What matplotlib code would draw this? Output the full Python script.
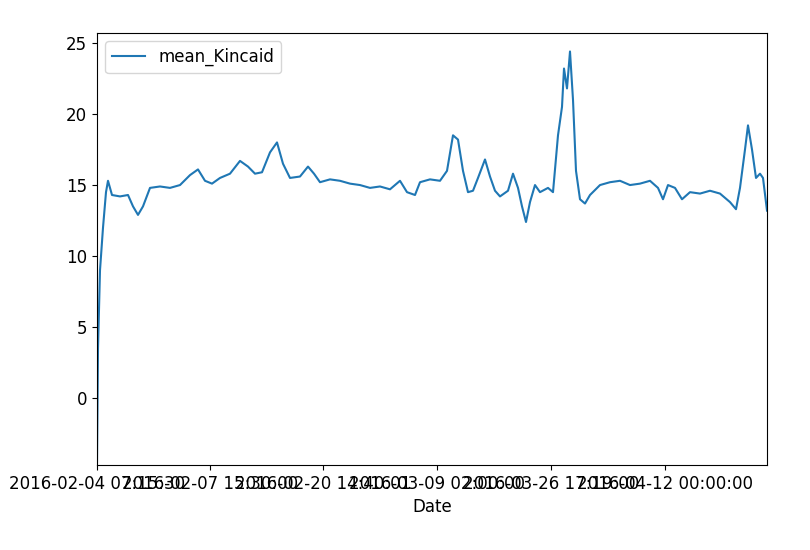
import matplotlib
matplotlib.use("Agg")
import matplotlib.pyplot as plt

x_pos = [0,1,3,6,9,11,15,23,31,36,41,46,53,63,73,83,93,101,108,115,123,133,143,151,158,165,173,180,186,193,203,211,217,223,233,243,253,263,273,283,293,303,310,318,323,333,343,350,356,361,366,371,376,381,388,393,398,403,411,416,421,425,429,433,438,443,451,456,461,465,467,470,473,476,479,483,488,493,503,513,523,533,543,553,561,566,571,578,585,593,603,613,623,633,639,643,648,651,655,659,663,666,670]
values = [-4.5,3.5,9,12,14.5,15.3,14.3,14.2,14.3,13.5,12.9,13.5,14.8,14.9,14.8,15.0,15.7,16.1,15.3,15.1,15.5,15.8,16.7,16.3,15.8,15.9,17.3,18.0,16.5,15.5,15.6,16.3,15.8,15.2,15.4,15.3,15.1,15.0,14.8,14.9,14.7,15.3,14.5,14.3,15.2,15.4,15.3,16.0,18.5,18.2,16.0,14.5,14.6,15.5,16.8,15.6,14.6,14.2,14.6,15.8,14.8,13.5,12.4,13.8,15.0,14.5,14.8,14.5,18.5,20.5,23.2,21.8,24.4,21.0,16.0,14.0,13.7,14.3,15.0,15.2,15.3,15.0,15.1,15.3,14.8,14.0,15.0,14.8,14.0,14.5,14.4,14.6,14.4,13.8,13.3,14.8,17.5,19.2,17.5,15.5,15.8,15.5,13.2]
tick_pos = [0,113,226,340,454,568]
tick_labels = ["2016-02-04 07:15:30","2016-02-07 15:30:00","2016-02-20 14:40:01","2016-03-09 02:00:00","2016-03-26 17:19:00","2016-04-12 00:00:00"]

fig = plt.figure(figsize=(8.1,5.5), dpi=100)
ax = fig.add_axes([97/810, 1-465/550, 670/810, 432/550])
ax.plot(x_pos, values, color="#1f77b4", label="mean_Kincaid")
ax.set_xlim(0,670)
ax.set_ylim(-4.7,25.7)
ax.set_xticks(tick_pos)
ax.set_xticklabels(tick_labels, fontsize=12)
ax.tick_params(axis='y', labelsize=12)
ax.set_xlabel("Date", fontsize=12)
ax.legend(loc="upper left", fontsize=12)
fig.savefig("out.png")
